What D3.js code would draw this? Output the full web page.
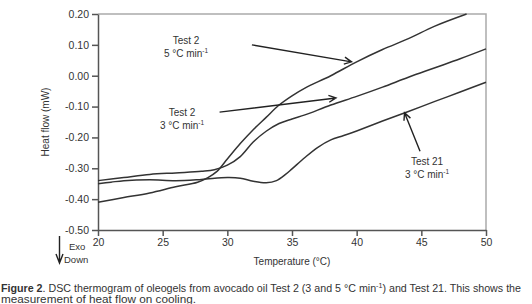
<!DOCTYPE html>
<html lang="en">
<head>
<meta charset="utf-8">
<title>DSC thermogram</title>
<script src="https://d3js.org/d3.v7.min.js"></script>
<style>
  body { margin: 0; background: #fff; }
  svg text { font-family: "Liberation Sans", Arial, sans-serif; fill: #333; }
  .axis path, .axis line { stroke: #555; stroke-width: 1.5px; }
  .axis text { font-size: 10.5px; fill: #333; }
  .curve { fill: none; stroke: #333; stroke-width: 1.5px; }
  .note { font-size: 10px; }
  .arrow { stroke: #222; stroke-width: 1.4px; fill: none; }
</style>
</head>
<body>
<script>
const w = 532, h = 304;
const margin = {top: 14, right: 46, bottom: 74, left: 98};

// data: temperature (°C) and heat flow (mW)
const temp5 = [20, 22, 24, 26, 27.7, 28.5, 29.2, 30, 31, 32, 33, 34, 35, 36, 38, 40, 42, 44, 46, 48.5];
const flow5 = [-0.41, -0.395, -0.38, -0.36, -0.345, -0.33, -0.31, -0.27, -0.22, -0.175, -0.135, -0.095, -0.065, -0.04, 0.0, 0.045, 0.085, 0.12, 0.16, 0.20];

const temp3 = [20, 22, 24, 26, 28, 29, 30, 31, 32, 33, 34, 35, 36, 38, 40, 42, 44, 46, 48, 50];
const flow3 = [-0.34, -0.33, -0.32, -0.315, -0.31, -0.305, -0.29, -0.262, -0.215, -0.18, -0.155, -0.14, -0.127, -0.095, -0.067, -0.037, -0.005, 0.025, 0.055, 0.087];

const temp21 = [20, 21, 22, 24, 26, 28, 30, 31, 32, 33, 33.8, 34.5, 35, 36, 37, 38, 39, 40, 42, 44, 46, 48, 50];
const flow21 = [-0.35, -0.345, -0.34, -0.337, -0.34, -0.336, -0.33, -0.332, -0.342, -0.347, -0.34, -0.32, -0.302, -0.265, -0.232, -0.208, -0.194, -0.179, -0.147, -0.116, -0.084, -0.053, -0.021];

const xTicks = [20, 25, 30, 35, 40, 45, 50];
const yTicks = [0.20, 0.10, 0.00, -0.10, -0.20, -0.30, -0.40, -0.50];

const svg = d3.select("body").append("svg")
  .attr("width", w).attr("height", h);

const x = d3.scaleLinear().domain([20, 50]).range([margin.left, w - margin.right]);
const y = d3.scaleLinear().domain([-0.5, 0.2]).range([h - margin.bottom, margin.top]);

// top and right frame
svg.append("path")
  .attr("d", `M${x(20)},${y(0.2)}H${x(50)}V${y(-0.5)}`)
  .attr("fill", "none").attr("stroke", "#aaa").attr("stroke-width", 1.5);

svg.append("g").attr("class", "axis")
  .attr("transform", `translate(0,${y(-0.5)})`)
  .call(d3.axisBottom(x).tickValues(xTicks).tickSize(6).tickSizeOuter(0).tickFormat(d3.format("d")));

svg.append("g").attr("class", "axis")
  .attr("transform", `translate(${x(20)},0)`)
  .call(d3.axisLeft(y).tickValues(yTicks).tickSize(6).tickSizeOuter(0)
    .tickFormat(d => d.toFixed(2).replace("-0.00", "0.00")));

svg.selectAll(".axis .domain").attr("stroke-width", 2);

const line = d3.line().x(d => x(d[0])).y(d => y(d[1])).curve(d3.curveCatmullRom);

[[temp5, flow5], [temp3, flow3], [temp21, flow21]].forEach(s => {
  svg.append("path").attr("class", "curve")
    .attr("d", line(d3.zip(s[0], s[1])));
});

// labels with arrows
function arrow(x1, y1, x2, y2) {
  const a = Math.atan2(y2 - y1, x2 - x1), L = 8, s = 0.45;
  svg.append("path").attr("class", "arrow")
    .attr("d", `M${x1},${y1}L${x2},${y2}` +
      `M${x2 - L * Math.cos(a - s)},${y2 - L * Math.sin(a - s)}L${x2},${y2}` +
      `L${x2 - L * Math.cos(a + s)},${y2 - L * Math.sin(a + s)}`);
}

function note(cx, cy, name, rate) {
  svg.append("text").attr("class", "note").attr("text-anchor", "middle")
    .attr("x", cx).attr("y", cy).text(name);
  const t2 = svg.append("text").attr("class", "note").attr("text-anchor", "middle")
    .attr("x", cx).attr("y", cy + 13);
  t2.append("tspan").text(rate + " °C min");
  t2.append("tspan").attr("dy", -4).attr("font-size", 6.5).text("-1");
}

note(186, 44, "Test 2", "5");
arrow(x(31.9), y(0.1), x(39.6), y(0.045));
note(182, 116, "Test 2", "3");
arrow(x(29.4), y(-0.118), x(38.4), y(-0.072));
note(427, 165, "Test 21", "3");
arrow(x(44.9), y(-0.245), x(43.7), y(-0.12));

// axis titles
svg.append("text").attr("font-size", 10).attr("text-anchor", "middle")
  .attr("transform", `translate(49,${y(-0.15)}) rotate(-90)`)
  .text("Heat flow (mW)");
svg.append("text").attr("font-size", 10).attr("text-anchor", "middle")
  .attr("x", x(35)).attr("y", 265).text("Temperature (°C)");

// exo down
svg.append("path").attr("class", "arrow").attr("stroke-width", 1.1)
  .attr("d", "M59.5,236V263M56,254L59.5,263L63,254");
svg.append("text").attr("font-size", 9.5).attr("x", 69).attr("y", 250).text("Exo");
svg.append("text").attr("font-size", 9.5).attr("x", 64).attr("y", 263).text("Down");

// caption
const cap = svg.append("text").attr("font-size", 10.5).attr("x", 1).attr("y", 292)
  .attr("textLength", 520).attr("lengthAdjust", "spacingAndGlyphs");
cap.append("tspan").attr("font-weight", "bold").text("Figure 2");
cap.append("tspan").text(". DSC thermogram of oleogels from avocado oil Test 2 (3 and 5 °C min");
cap.append("tspan").attr("dy", -4).attr("font-size", 7).text("-1");
cap.append("tspan").attr("dy", 4).text(") and Test 21. This shows the");
svg.append("text").attr("font-size", 10.5).attr("x", 1).attr("y", 302.5)
  .attr("textLength", 195).attr("lengthAdjust", "spacingAndGlyphs")
  .text("measurement of heat flow  on cooling.");
</script>
</body>
</html>
